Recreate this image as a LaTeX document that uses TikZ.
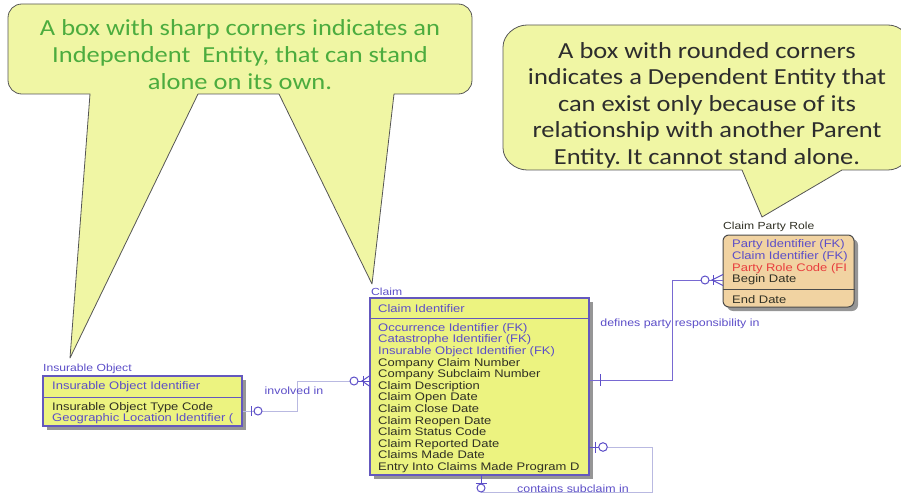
\documentclass[tikz,border=0pt]{standalone}
\usepackage{fontspec}
\setmainfont{Liberation Sans}
\newfontfamily\callfont[FakeStretch=1.15]{Carlito}
\newfontfamily\erfont[FakeStretch=1.18]{Liberation Sans}
\usetikzlibrary{shadows,calc}
\definecolor{calloutfill}{RGB}{240,246,164}
\definecolor{calloutline}{RGB}{85,85,85}
\definecolor{calloutgreen}{RGB}{76,172,62}
\definecolor{callouttext}{RGB}{45,45,45}
\definecolor{entfill}{RGB}{236,243,128}
\definecolor{entline}{RGB}{100,88,190}
\definecolor{cprfill}{RGB}{241,211,162}
\definecolor{cprline}{RGB}{75,75,75}
\definecolor{erpurple}{RGB}{92,78,200}
\definecolor{erdark}{RGB}{48,48,36}
\definecolor{erred}{RGB}{232,62,62}
\definecolor{shadowc}{RGB}{150,150,150}
\definecolor{rellight}{RGB}{185,185,225}
\definecolor{reldark}{RGB}{120,105,210}
\frenchspacing
\begin{document}
\begin{tikzpicture}[x=1pt,y=-1pt,
  callout/.style={fill=calloutfill,draw=calloutline,line width=0.8pt,line join=round},
  calltext/.style={font=\callfont\fontsize{23}{27}\selectfont,align=center,inner sep=0},
  entbox/.style={draw=entline,fill=entfill,line width=1.3pt,inner sep=0,
    drop shadow={shadow xshift=4pt,shadow yshift=-4pt,fill=shadowc,opacity=1}},
  cprbox/.style={draw=cprline,fill=cprfill,line width=1pt,inner sep=0,rounded corners=6pt,
    drop shadow={shadow xshift=4pt,shadow yshift=-4pt,fill=shadowc,opacity=1}},
  ertext/.style={font=\erfont\fontsize{11}{11.6}\selectfont,inner sep=0,text=erdark,align=left,anchor=west},
  titletext/.style={font=\erfont\fontsize{10.3}{11}\selectfont,inner sep=0,anchor=south west},
  rellabel/.style={font=\erfont\fontsize{10.5}{11}\selectfont,inner sep=0,text=erpurple},
  rel/.style={draw=rellight,line width=0.9pt},
  reld/.style={draw=reldark,line width=1pt},
  sym/.style={draw=erpurple,line width=1pt},
]
\useasboundingbox (0,0) rectangle (901,494);
\clip (0,0) rectangle (901,494);

% callout 1 (independent entity)
\path[callout] (22,4) -- (458,4) .. controls (466,4) and (472,10) .. (472,18)
  -- (472,80) .. controls (472,88) and (466,94) .. (458,94)
  -- (394,94) -- (372,284) -- (279,94) -- (198,94) -- (70,358) -- (90,94)
  -- (22,94) .. controls (14,94) and (8,88) .. (8,80)
  -- (8,18) .. controls (8,10) and (14,4) .. (22,4) -- cycle;
\node[calltext,text=calloutgreen] (t1) at (240,55)
  {A box with sharp corners indicates an\\Independent\ \ Entity, that can stand\\alone on its own.};

% callout 2 (dependent entity)
\path[callout] (527,25) -- (888,25) .. controls (900,25) and (910,35) .. (910,47)
  -- (910,148) .. controls (910,160) and (900,170) .. (888,170)
  -- (842,170) -- (762,217) -- (742,170)
  -- (527,170) .. controls (515,170) and (503,160) .. (503,148)
  -- (503,47) .. controls (503,35) and (515,25) .. (527,25) -- cycle;
\node[calltext,text=callouttext,font=\callfont\fontsize{23}{26.5}\selectfont] (t2) at (707,105)
  {A box with rounded corners\\indicates a Dependent Entity that\\can exist only because of its\\relationship with another Parent\\Entity. It cannot stand alone.};

% Insurable Object
\node[entbox,minimum width=199pt,minimum height=50pt] (io) at (142.5,401) {};
\draw[entline,line width=1pt] (io.west |- 0,397) -- (io.east |- 0,397);
\node[titletext,text=erpurple] (iot) at (43,374) {Insurable Object};
\node[ertext] (iok) at (52,387) {\textcolor{erpurple}{Insurable Object Identifier}};
\node[ertext] (ioa) at (52,413) {Insurable Object Type Code\\\textcolor{erpurple}{Geographic Location Identifier (}};

% Claim
\node[entbox,minimum width=219pt,minimum height=177pt] (claim) at (479.5,386.5) {};
\draw[entline,line width=1pt] (claim.west |- 0,318) -- (claim.east |- 0,318);
\node[titletext,text=erpurple] (ct) at (371,296) {Claim};
\node[ertext] (ck) at (378,308.5) {\textcolor{erpurple}{Claim Identifier}};
\node[ertext] (ca) at (378,398) {\textcolor{erpurple}{Occurrence Identifier (FK)}\\
  \textcolor{erpurple}{Catastrophe Identifier (FK)}\\
  \textcolor{erpurple}{Insurable Object Identifier (FK)}\\
  Company Claim Number\\
  Company Subclaim Number\\
  Claim Description\\
  Claim Open Date\\
  Claim Close Date\\
  Claim Reopen Date\\
  Claim Status Code\\
  Claim Reported Date\\
  Claims Made Date\\
  Entry Into Claims Made Program D};

% Claim Party Role
\node[cprbox,minimum width=131pt,minimum height=72pt] (cpr) at (788.5,271) {};
\draw[cprline,line width=1pt] (cpr.west |- 0,289) -- (cpr.east |- 0,289);
\node[titletext,text=erdark] (cprt) at (723,232) {Claim Party Role};
\node[ertext] (cpra) at (732,262.5) {\textcolor{erpurple}{Party Identifier (FK)}\\
  \textcolor{erpurple}{Claim Identifier (FK)}\\
  \textcolor{erred}{Party Role Code (FI}\\
  Begin Date};
\node[ertext] (cprb) at (732,299.5) {End Date};

% connector: involved in
\coordinate (ioR) at (io.east |- 0,411);
\coordinate (cL) at (claim.west |- 0,381);
\draw[rel] (ioR) -- ++(55,0) |- (cL);
\draw[sym] (251,406) -- (251,416);
\draw[sym,fill=white] (258,411) circle[radius=4pt];
\draw[sym,fill=white] (354,381) circle[radius=4pt];
\draw[sym] (358,381) -- (370,381);
\draw[sym] (363,376) -- (363,386);
\draw[sym] (370,375.5) -- (362,381) -- (370,386.5);
\node[rellabel] (l1) at (294,391) {involved in};

% connector: defines party responsibility in
\coordinate (cR1) at (claim.east |- 0,380);
\coordinate (cprL) at (cpr.west |- 0,280);
\draw[reld] (cR1) -- ++(83,0) |- (cprL);
\draw[sym] (600,374) -- (600,386);
\draw[sym,fill=white] (705,280) circle[radius=4pt];
\draw[sym] (713,275) -- (713,285);
\draw[sym] (723,274.5) -- (712,280) -- (723,285.5);
\node[rellabel] (l2) at (680,324) {defines\ party responsibility in};

% connector: contains subclaim in
\coordinate (cR2) at (claim.east |- 0,447);
\coordinate (cB) at (claim.south -| 481,0);
\draw[rel] (cR2) -| (652,492) -| (cB);
\draw[sym] (595,441.5) -- (595,452.5);
\draw[sym] (589,447) -- (599,447);
\draw[sym,fill=white] (603,447) circle[radius=4.3pt];
\draw[sym] (481,475) -- (481,484);
\draw[sym] (475.5,483.5) -- (486.5,483.5);
\draw[sym,fill=white] (481,488) circle[radius=4pt];
\node[rellabel] (l3) at (573,489) {contains subclaim in};
\end{tikzpicture}
\end{document}
